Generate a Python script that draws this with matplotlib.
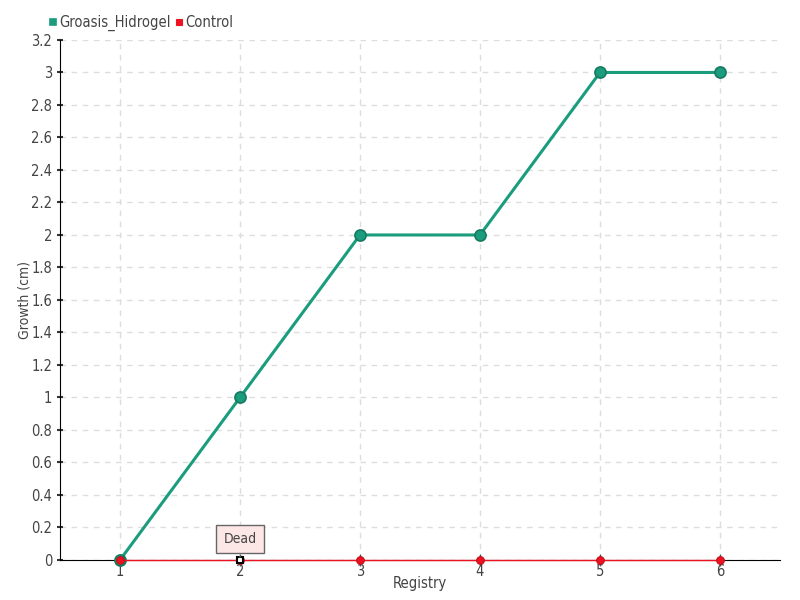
import matplotlib
matplotlib.use('Agg')
import matplotlib.pyplot as plt

# police condensée (DejaVu Sans Condensed)
plt.rcParams['font.family'] = ['DejaVu Sans']
plt.rcParams['font.stretch'] = 'condensed'

# ── Données ──────────────────────────────
registry = [1, 2, 3, 4, 5, 6]
groasis = [0, 1, 2, 2, 3, 3]
control = [0, 0, 0, 0, 0, 0]
yticks = [0, 0.2, 0.4, 0.6, 0.8, 1, 1.2, 1.4, 1.6, 1.8, 2, 2.2, 2.4, 2.6, 2.8, 3, 3.2]

green = '#1a9c7d'
red = '#ee1122'
txt = '#444444'

fig = plt.figure(figsize=(8, 6), dpi=100)
ax = fig.add_axes([0.075, 0.0667, 0.9, 0.8667])

ax.plot(registry, groasis, color=green, lw=2.2, marker='o', ms=8,
        mfc=green, mec='#167a60', mew=1.2, zorder=4, clip_on=False,
        label='Groasis_Hidrogel')
ax.plot(registry, control, color=red, lw=1, marker='o', ms=5.5,
        mfc=red, mec='#c01018', mew=0.8, zorder=5, clip_on=False,
        label='Control')
# point survolé
ax.plot([registry[1]], [control[1]], marker='s', ms=5, mfc='white', mec='black',
        mew=1.5, zorder=6, clip_on=False)

ax.annotate('Dead', xy=(registry[1], control[1]), xytext=(0, 15),
            textcoords='offset points', ha='center', va='center',
            fontsize=10, color=txt,
            bbox=dict(boxstyle='square,pad=0.5', fc='#fde6e6', ec='#666666', lw=1),
            arrowprops=dict(arrowstyle='-', color='#666666', lw=1), zorder=7)

ax.set_xlim(0.5, 6.5)
ax.set_ylim(0, 3.2)
ax.set_xticks(registry)
ax.set_yticks(yticks)
ax.set_yticklabels([f'{v:g}' for v in yticks])
ax.grid(True, color='#dddddd', ls=(0, (4, 4)), lw=1)
ax.set_axisbelow(True)
for s in ['top', 'right']:
    ax.spines[s].set_visible(False)
ax.spines['left'].set_color('black')
ax.spines['bottom'].set_color('black')
ax.tick_params(axis='y', length=4, width=1.5, color='#333333', labelsize=10.5,
               labelcolor=txt, direction='inout')
ax.tick_params(axis='x', length=8, width=1, color='#555555', labelsize=10.5,
               labelcolor=txt, direction='inout', pad=-1)
ax.set_xlabel('Registry', fontsize=10.5, color=txt)
ax.set_ylabel('Growth (cm)', fontsize=10, color=txt)
ax.xaxis.set_label_coords(0.5, -0.03)
ax.yaxis.set_label_coords(-0.04, 0.5)

leg = ax.legend(loc='lower left', bbox_to_anchor=(-0.026, 1.0), ncol=2, frameon=False,
                handlelength=0.4, handletextpad=0.2, columnspacing=0.4,
                fontsize=10.5, borderaxespad=0.2)
for h, c in zip(leg.legend_handles, [green, red]):
    h.set_linestyle('')
    h.set_marker('s')
    h.set_markersize(4.5)
    h.set_markerfacecolor(c)
    h.set_markeredgecolor(c)
for t in leg.get_texts():
    t.set_color(txt)

plt.savefig('out.png', dpi=100)
